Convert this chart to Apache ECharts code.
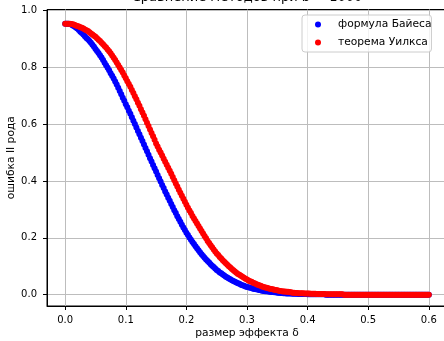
<!DOCTYPE html>
<html>
<head>
<meta charset="utf-8">
<script src="https://cdn.jsdelivr.net/npm/echarts@6/dist/echarts.min.js"></script>
<style>
  html, body { margin: 0; padding: 0; background: #ffffff; }
  #chart { width: 444px; height: 341px; }
</style>
</head>
<body>
<div id="chart"></div>
<script>
// effect size grid, step 0.0025
const delta = [
  0.0000, 0.0025, 0.0050, 0.0075, 0.0100, 0.0125, 0.0150, 0.0175, 0.0200, 0.0225,
  0.0250, 0.0275, 0.0300, 0.0325, 0.0350, 0.0375, 0.0400, 0.0425, 0.0450, 0.0475,
  0.0500, 0.0525, 0.0550, 0.0575, 0.0600, 0.0625, 0.0650, 0.0675, 0.0700, 0.0725,
  0.0750, 0.0775, 0.0800, 0.0825, 0.0850, 0.0875, 0.0900, 0.0925, 0.0950, 0.0975,
  0.1000, 0.1025, 0.1050, 0.1075, 0.1100, 0.1125, 0.1150, 0.1175, 0.1200, 0.1225,
  0.1250, 0.1275, 0.1300, 0.1325, 0.1350, 0.1375, 0.1400, 0.1425, 0.1450, 0.1475,
  0.1500, 0.1525, 0.1550, 0.1575, 0.1600, 0.1625, 0.1650, 0.1675, 0.1700, 0.1725,
  0.1750, 0.1775, 0.1800, 0.1825, 0.1850, 0.1875, 0.1900, 0.1925, 0.1950, 0.1975,
  0.2000, 0.2025, 0.2050, 0.2075, 0.2100, 0.2125, 0.2150, 0.2175, 0.2200, 0.2225,
  0.2250, 0.2275, 0.2300, 0.2325, 0.2350, 0.2375, 0.2400, 0.2425, 0.2450, 0.2475,
  0.2500, 0.2525, 0.2550, 0.2575, 0.2600, 0.2625, 0.2650, 0.2675, 0.2700, 0.2725,
  0.2750, 0.2775, 0.2800, 0.2825, 0.2850, 0.2875, 0.2900, 0.2925, 0.2950, 0.2975,
  0.3000, 0.3025, 0.3050, 0.3075, 0.3100, 0.3125, 0.3150, 0.3175, 0.3200, 0.3225,
  0.3250, 0.3275, 0.3300, 0.3325, 0.3350, 0.3375, 0.3400, 0.3425, 0.3450, 0.3475,
  0.3500, 0.3525, 0.3550, 0.3575, 0.3600, 0.3625, 0.3650, 0.3675, 0.3700, 0.3725,
  0.3750, 0.3775, 0.3800, 0.3825, 0.3850, 0.3875, 0.3900, 0.3925, 0.3950, 0.3975,
  0.4000, 0.4025, 0.4050, 0.4075, 0.4100, 0.4125, 0.4150, 0.4175, 0.4200, 0.4225,
  0.4250, 0.4275, 0.4300, 0.4325, 0.4350, 0.4375, 0.4400, 0.4425, 0.4450, 0.4475,
  0.4500, 0.4525, 0.4550, 0.4575, 0.4600, 0.4625, 0.4650, 0.4675, 0.4700, 0.4725,
  0.4750, 0.4775, 0.4800, 0.4825, 0.4850, 0.4875, 0.4900, 0.4925, 0.4950, 0.4975,
  0.5000, 0.5025, 0.5050, 0.5075, 0.5100, 0.5125, 0.5150, 0.5175, 0.5200, 0.5225,
  0.5250, 0.5275, 0.5300, 0.5325, 0.5350, 0.5375, 0.5400, 0.5425, 0.5450, 0.5475,
  0.5500, 0.5525, 0.5550, 0.5575, 0.5600, 0.5625, 0.5650, 0.5675, 0.5700, 0.5725,
  0.5750, 0.5775, 0.5800, 0.5825, 0.5850, 0.5875, 0.5900, 0.5925, 0.5950, 0.5975,
  0.6000
];

// type II error, Bayes formula
const bayesErr = [
  0.953, 0.953, 0.953, 0.952, 0.950, 0.947, 0.944, 0.940, 0.936, 0.931,
  0.925, 0.920, 0.915, 0.909, 0.903, 0.898, 0.892, 0.886, 0.879, 0.872,
  0.864, 0.857, 0.850, 0.842, 0.834, 0.825, 0.816, 0.807, 0.798, 0.789,
  0.779, 0.770, 0.760, 0.750, 0.739, 0.728, 0.716, 0.705, 0.693, 0.682,
  0.670, 0.659, 0.647, 0.636, 0.624, 0.612, 0.600, 0.588, 0.576, 0.564,
  0.552, 0.540, 0.528, 0.516, 0.504, 0.492, 0.480, 0.468, 0.456, 0.445,
  0.433, 0.421, 0.409, 0.398, 0.386, 0.375, 0.363, 0.352, 0.341, 0.330,
  0.319, 0.308, 0.297, 0.287, 0.276, 0.266, 0.256, 0.246, 0.236, 0.227,
  0.218, 0.210, 0.201, 0.193, 0.185, 0.178, 0.170, 0.163, 0.156, 0.149,
  0.142, 0.136, 0.130, 0.124, 0.118, 0.113, 0.107, 0.102, 0.097, 0.092,
  0.087, 0.083, 0.078, 0.075, 0.071, 0.067, 0.063, 0.060, 0.057, 0.054,
  0.051, 0.048, 0.045, 0.043, 0.040, 0.038, 0.035, 0.033, 0.031, 0.029,
  0.027, 0.026, 0.024, 0.023, 0.021, 0.020, 0.019, 0.018, 0.016, 0.015,
  0.014, 0.013, 0.012, 0.012, 0.011, 0.010, 0.009, 0.009, 0.008, 0.008,
  0.007, 0.007, 0.006, 0.006, 0.005, 0.005, 0.004, 0.004, 0.004, 0.004,
  0.003, 0.003, 0.003, 0.003, 0.002, 0.002, 0.002, 0.002, 0.002, 0.002,
  0.001, 0.001, 0.001, 0.001, 0.001, 0.001, 0.001, 0.001, 0.001, 0.001,
  0.001, 0.001, 0.000, 0.000, 0.000, 0.000, 0.000, 0.000, 0.000, 0.000,
  0.000, 0.000, 0.000, 0.000, 0.000, 0.000, 0.000, 0.000, 0.000, 0.000,
  0.000, 0.000, 0.000, 0.000, 0.000, 0.000, 0.000, 0.000, 0.000, 0.000,
  0.000, 0.000, 0.000, 0.000, 0.000, 0.000, 0.000, 0.000, 0.000, 0.000,
  0.000, 0.000, 0.000, 0.000, 0.000, 0.000, 0.000, 0.000, 0.000, 0.000,
  0.000, 0.000, 0.000, 0.000, 0.000, 0.000, 0.000, 0.000, 0.000, 0.000,
  0.000, 0.000, 0.000, 0.000, 0.000, 0.000, 0.000, 0.000, 0.000, 0.000,
  0.000
];

// type II error, Wilks theorem
const wilksErr = [
  0.953, 0.953, 0.953, 0.953, 0.952, 0.951, 0.949, 0.947, 0.945, 0.943,
  0.941, 0.939, 0.936, 0.933, 0.930, 0.927, 0.923, 0.919, 0.915, 0.911,
  0.907, 0.902, 0.897, 0.892, 0.886, 0.881, 0.875, 0.869, 0.862, 0.856,
  0.849, 0.841, 0.833, 0.825, 0.817, 0.808, 0.799, 0.790, 0.781, 0.771,
  0.761, 0.751, 0.741, 0.731, 0.720, 0.709, 0.698, 0.687, 0.675, 0.664,
  0.652, 0.641, 0.629, 0.617, 0.605, 0.593, 0.581, 0.569, 0.557, 0.545,
  0.532, 0.521, 0.510, 0.500, 0.489, 0.478, 0.467, 0.457, 0.446, 0.436,
  0.425, 0.414, 0.402, 0.391, 0.380, 0.369, 0.358, 0.348, 0.337, 0.327,
  0.316, 0.306, 0.296, 0.287, 0.277, 0.268, 0.259, 0.250, 0.241, 0.233,
  0.224, 0.215, 0.206, 0.198, 0.189, 0.182, 0.174, 0.167, 0.159, 0.152,
  0.145, 0.139, 0.132, 0.127, 0.121, 0.116, 0.110, 0.105, 0.100, 0.095,
  0.090, 0.086, 0.081, 0.077, 0.073, 0.070, 0.066, 0.063, 0.059, 0.056,
  0.053, 0.050, 0.047, 0.045, 0.042, 0.040, 0.037, 0.035, 0.033, 0.031,
  0.029, 0.027, 0.025, 0.024, 0.022, 0.021, 0.020, 0.019, 0.017, 0.016,
  0.015, 0.014, 0.013, 0.012, 0.011, 0.011, 0.010, 0.010, 0.009, 0.008,
  0.007, 0.007, 0.006, 0.006, 0.005, 0.005, 0.005, 0.005, 0.004, 0.004,
  0.004, 0.004, 0.003, 0.003, 0.003, 0.003, 0.002, 0.002, 0.002, 0.002,
  0.002, 0.002, 0.001, 0.001, 0.001, 0.001, 0.001, 0.001, 0.001, 0.001,
  0.001, 0.001, 0.001, 0.001, 0.000, 0.000, 0.000, 0.000, 0.000, 0.000,
  0.000, 0.000, 0.000, 0.000, 0.000, 0.000, 0.000, 0.000, 0.000, 0.000,
  0.000, 0.000, 0.000, 0.000, 0.000, 0.000, 0.000, 0.000, 0.000, 0.000,
  0.000, 0.000, 0.000, 0.000, 0.000, 0.000, 0.000, 0.000, 0.000, 0.000,
  0.000, 0.000, 0.000, 0.000, 0.000, 0.000, 0.000, 0.000, 0.000, 0.000,
  0.000, 0.000, 0.000, 0.000, 0.000, 0.000, 0.000, 0.000, 0.000, 0.000,
  0.000
];

const xTicks = [0.0, 0.1, 0.2, 0.3, 0.4, 0.5, 0.6];
const yTicks = [0.0, 0.2, 0.4, 0.6, 0.8, 1.0];
const seriesNames = ['формула Байеса', 'теорема Уилкса'];
const seriesColors = ['#0000ff', '#ff0000'];
const titleText = 'Сравнение методов при b = 1000';
const xLabel = 'размер эффекта δ';
const yLabel = 'ошибка II рода';

const FONT = 'DejaVu Sans';
const GRID_COLOR = '#bdbdbd';
const TEXT_SIZE = 10.7;

function pairs(xs, ys) {
  return xs.map((x, i) => [x, ys[i]]);
}

const chart = echarts.init(document.getElementById('chart'), null, { renderer: 'canvas' });

chart.setOption({
  animation: false,
  backgroundColor: '#ffffff',
  title: {
    text: titleText,
    left: 247,
    top: -8.5,
    textAlign: 'center',
    padding: 0,
    textStyle: { fontFamily: FONT, fontSize: 13, fontWeight: 'normal', color: '#000000' }
  },
  legend: {
    orient: 'vertical',
    left: 302,
    top: 15,
    padding: [3, 0, 3, 13],
    itemWidth: 6,
    itemHeight: 6,
    itemGap: 5,
    icon: 'circle',
    backgroundColor: 'rgba(255,255,255,0.8)',
    borderColor: '#cccccc',
    borderWidth: 1,
    borderRadius: 3,
    textStyle: {
      fontFamily: FONT, fontSize: TEXT_SIZE, color: '#000000', lineHeight: 13,
      padding: [0, 0, 0, 12]
    },
    data: seriesNames
  },
  grid: {
    left: 47,
    right: -3,
    top: 9.5,
    bottom: 35,
    show: true,
    borderColor: '#000000',
    borderWidth: 1,
    backgroundColor: 'transparent',
    containLabel: false,
    outerBoundsMode: 'none'
  },
  xAxis: {
    type: 'value',
    min: -0.03,
    max: 0.63,
    name: xLabel,
    nameLocation: 'middle',
    nameGap: 22,
    nameMoveOverlap: false,
    nameTextStyle: { fontFamily: FONT, fontSize: TEXT_SIZE, color: '#000000' },
    axisLine: { show: true, onZero: false, lineStyle: { color: '#000000', width: 1 } },
    axisTick: { show: true, length: 4, customValues: xTicks, lineStyle: { color: '#000000', width: 1 } },
    axisLabel: {
      customValues: xTicks,
      formatter: v => v.toFixed(1),
      fontFamily: FONT, fontSize: 10, color: '#000000', margin: 9
    },
    splitLine: { show: true, lineStyle: { color: GRID_COLOR, width: 1 } }
  },
  yAxis: {
    type: 'value',
    min: -0.04,
    max: 1.003,
    name: yLabel,
    nameLocation: 'middle',
    nameGap: 30,
    nameRotate: 90,
    nameMoveOverlap: false,
    nameTextStyle: { fontFamily: FONT, fontSize: TEXT_SIZE, color: '#000000' },
    axisLine: { show: true, onZero: false, lineStyle: { color: '#000000', width: 1 } },
    axisTick: { show: true, length: 4, customValues: yTicks, lineStyle: { color: '#000000', width: 1 } },
    axisLabel: {
      customValues: yTicks,
      formatter: v => v.toFixed(1),
      fontFamily: FONT, fontSize: 10, color: '#000000', margin: 10
    },
    splitLine: { show: true, lineStyle: { color: GRID_COLOR, width: 1 } }
  },
  series: [
    {
      type: 'scatter',
      name: seriesNames[0],
      data: pairs(delta, bayesErr),
      symbol: 'circle',
      symbolSize: 6,
      itemStyle: { color: seriesColors[0], opacity: 1 },
      z: 2,
      silent: true
    },
    {
      type: 'scatter',
      name: seriesNames[1],
      data: pairs(delta, wilksErr),
      symbol: 'circle',
      symbolSize: 6,
      itemStyle: { color: seriesColors[1], opacity: 1 },
      z: 3,
      silent: true
    }
  ]
});
</script>
</body>
</html>
